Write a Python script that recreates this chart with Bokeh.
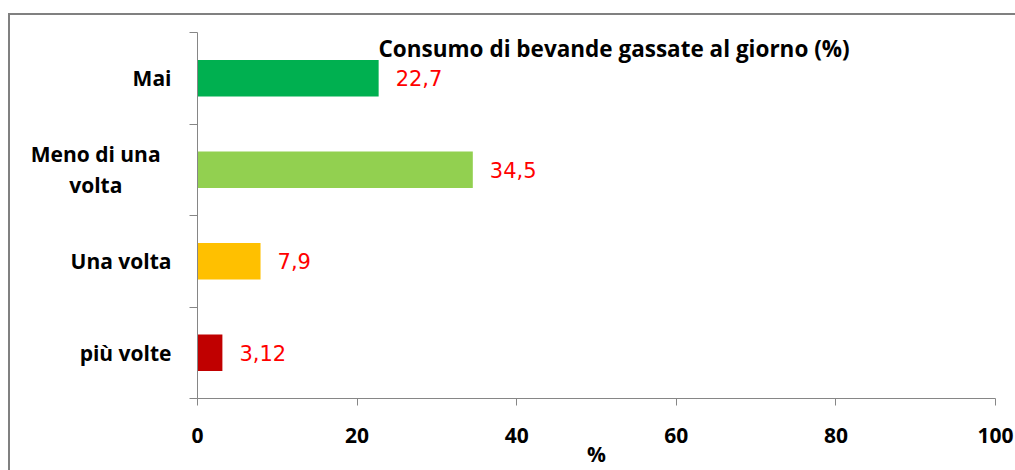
from bokeh.plotting import figure
from bokeh.models import Range1d, FixedTicker, Label, ColumnDataSource
from bokeh.core.properties import value
from bokeh.embed import file_html
from bokeh.resources import INLINE

# ---- data ----
categories = ["Mai", "Meno di una\nvolta", "Una volta", "più volte"]
values = [22.7, 34.5, 7.9, 3.12]
colors = ["#00B050", "#92D050", "#FFC000", "#C00000"]
x_ticks = [0, 20, 40, 60, 80, 100]
title_text = "Consumo di bevande gassate al giorno (%)"
x_label = "%"

n = len(categories)
ys = [n - i - 0.5 for i in range(n)]
labels = [str(v).replace(".", ",") for v in values]

NBSP = "\u00a0"


def centre_lines(s):
    # pad lines of a wrapped label so that they look centred in a wider box
    lines = s.split("\n")
    if len(lines) == 1:
        return s
    longest = max(len(l) for l in lines)
    out = []
    for l in lines:
        pad = NBSP * (2 + int(round((longest - len(l)) * 1.17)))
        out.append(l + pad)
    return "\n".join(out)


src = ColumnDataSource(dict(y=ys, v=values, c=colors, t=labels))

BLACK_FONT = "Open Sans"

border_css = {
    "background-image": "linear-gradient(#808080, #808080), linear-gradient(#808080, #808080)",
    "background-position": "8px 13px, 8px 13px",
    "background-size": "1007px 2px, 2px 457px",
    "background-repeat": "no-repeat",
}

p = figure(width=1015, height=470, output_backend="svg", toolbar_location=None,
           x_range=Range1d(0, 100), y_range=Range1d(0, n),
           min_border_left=197, min_border_right=20, min_border_top=32, min_border_bottom=72,
           styles=border_css)
p.outline_line_color = None
p.grid.visible = False
p.background_fill_color = None
p.border_fill_color = None

p.hbar(y="y", right="v", left=0, height=0.4, fill_color="c", line_color=None, source=src)
p.text(x="v", y="y", text="t", source=src, x_offset=17, text_baseline="middle",
       text_align="left", text_color="#FF0000", text_font=value("DejaVu Sans"),
       text_font_size="21px")

# x axis
xa = p.xaxis[0]
xa.ticker = FixedTicker(ticks=x_ticks, minor_ticks=[])
xa.axis_line_color = "#868686"
xa.major_tick_line_color = "#868686"
xa.major_tick_in = 0
xa.major_tick_out = 7
xa.minor_tick_line_color = None
xa.major_label_text_font = BLACK_FONT
xa.major_label_text_font_style = "bold"
xa.major_label_text_font_size = "21px"
xa.major_label_text_color = "black"
xa.major_label_standoff = 22
xa.axis_label = x_label
xa.axis_label_text_font = BLACK_FONT
xa.axis_label_text_font_style = "bold"
xa.axis_label_text_font_size = "21px"
xa.axis_label_text_color = "black"
xa.axis_label_standoff = -6

# y axis
ya = p.yaxis[0]
ya.ticker = FixedTicker(ticks=ys, minor_ticks=list(range(n + 1)))
ya.major_label_overrides = {y: centre_lines(c) for y, c in zip(ys, categories)}
ya.axis_line_color = "#868686"
ya.major_tick_line_color = None
ya.major_tick_in = 0
ya.major_tick_out = 0
ya.minor_tick_line_color = "#868686"
ya.minor_tick_in = 0
ya.minor_tick_out = 8
ya.major_label_text_font = BLACK_FONT
ya.major_label_text_font_style = "bold"
ya.major_label_text_font_size = "21px"
ya.major_label_text_color = "black"
ya.major_label_text_line_height = 1.12
ya.major_label_standoff = 18

# title inside the chart area
p.add_layout(Label(x=181, y=350, x_units="screen", y_units="screen", text=title_text,
                   text_font=BLACK_FONT, text_font_style="bold", text_font_size="22.5px",
                   text_baseline="middle", text_align="left", text_color="black"))

open("out.html", "w").write(file_html(p, INLINE))
